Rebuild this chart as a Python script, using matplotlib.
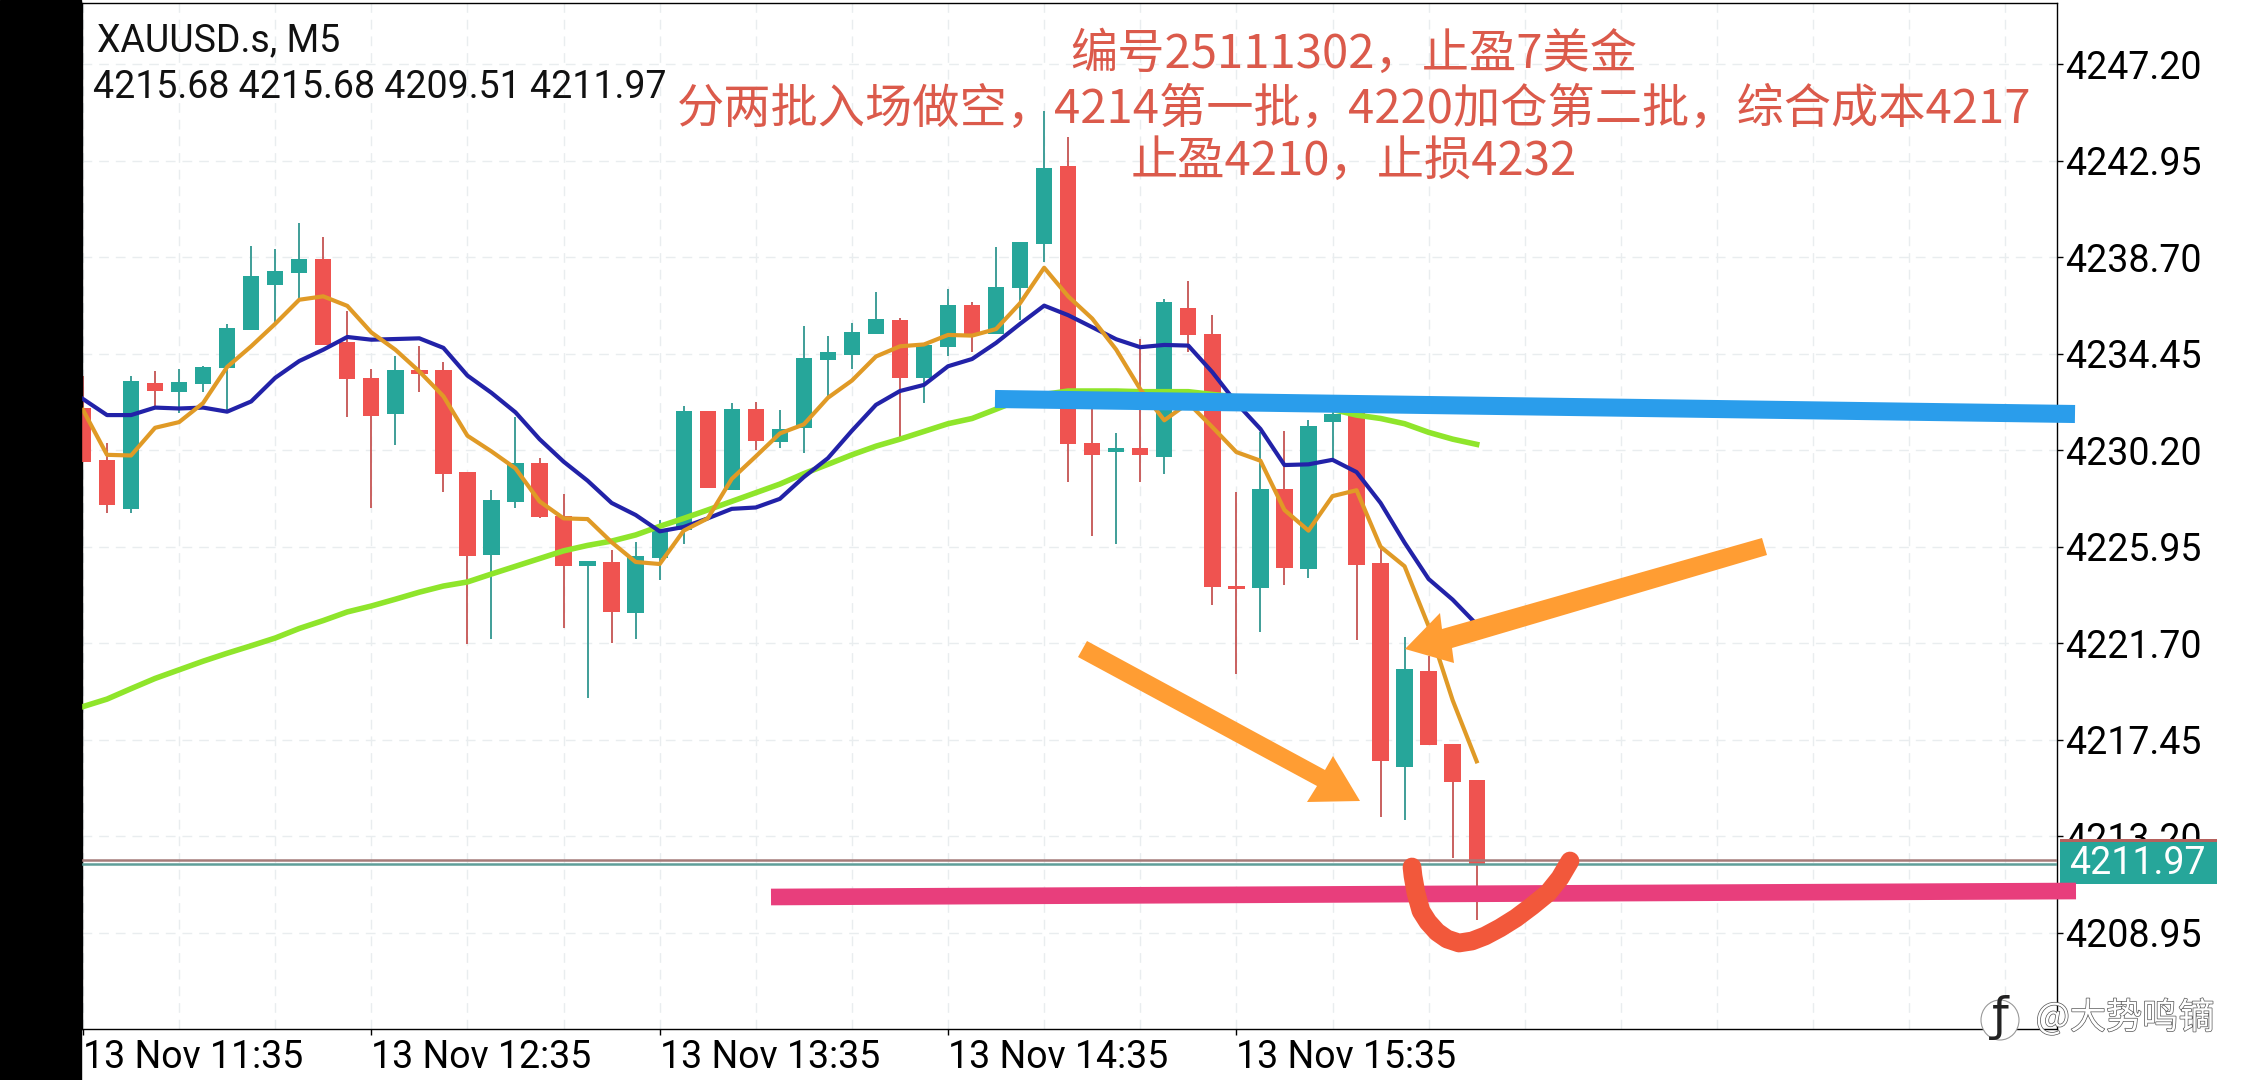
import matplotlib
matplotlib.use("Agg")
import numpy as np
import matplotlib.pyplot as plt
from matplotlib.patches import Polygon, Rectangle, Ellipse
import matplotlib.patheffects as pe

plt.rcParams["font.family"] = ["Roboto", "Noto Sans CJK SC", "DejaVu Sans"]

# candles, one per 5 minutes from 13 Nov 11:35
opens = [4232.07, 4229.75, 4227.62, 4233.16, 4232.76, 4233.11, 4233.83, 4235.50, 4237.47, 4238.00,
         4238.62, 4234.96, 4233.40, 4231.81, 4233.74, 4233.74, 4229.23, 4225.57, 4227.92, 4229.64,
         4227.32, 4225.10, 4225.30, 4223.02, 4225.46, 4226.69, 4231.95, 4228.45, 4232.02, 4230.58,
         4231.17, 4234.18, 4234.40, 4235.30, 4235.92, 4233.40, 4234.77, 4236.59, 4235.31, 4237.35,
         4239.29, 4242.72, 4230.52, 4230.14, 4230.32, 4229.91, 4236.47, 4235.34, 4224.22, 4224.12,
         4228.49, 4224.97, 4231.44, 4231.90, 4225.22, 4216.25, 4220.49, 4217.28, 4215.68]
closes = [4229.70, 4227.77, 4233.25, 4232.81, 4233.20, 4233.86, 4235.59, 4237.88, 4238.09, 4238.62,
          4234.83, 4233.34, 4231.72, 4233.74, 4233.55, 4229.17, 4225.54, 4228.00, 4229.64, 4227.27,
          4225.10, 4225.34, 4223.07, 4225.53, 4226.74, 4231.95, 4228.52, 4232.01, 4230.61, 4231.14,
          4234.25, 4234.51, 4235.39, 4235.98, 4233.37, 4234.83, 4236.59, 4235.31, 4237.38, 4239.38,
          4242.62, 4230.46, 4230.00, 4230.32, 4229.97, 4236.73, 4235.28, 4224.16, 4224.07, 4228.49,
          4225.03, 4231.29, 4231.79, 4225.13, 4216.50, 4220.57, 4217.23, 4215.60, 4211.97]
highs = [4233.48, 4230.50, 4233.49, 4233.67, 4233.80, 4233.90, 4235.77, 4239.18, 4239.06, 4240.20,
         4239.59, 4236.33, 4233.77, 4234.37, 4234.81, 4234.10, 4229.23, 4228.44, 4231.67, 4229.88,
         4228.26, 4225.34, 4225.80, 4226.18, 4227.12, 4232.13, 4231.95, 4232.28, 4232.31, 4231.98,
         4235.66, 4235.22, 4235.80, 4237.17, 4236.03, 4234.90, 4237.29, 4236.74, 4239.14, 4239.38,
         4245.15, 4243.99, 4232.05, 4230.96, 4235.09, 4236.88, 4237.64, 4236.15, 4228.36, 4230.99,
         4231.06, 4231.55, 4232.20, 4232.00, 4225.95, 4221.96, 4221.14, 4217.28, 4215.68]
lows = [4229.70, 4227.43, 4227.42, 4232.13, 4231.82, 4232.76, 4231.90, 4235.50, 4235.77, 4236.83,
        4234.83, 4231.67, 4227.65, 4230.43, 4232.76, 4228.36, 4221.67, 4221.88, 4227.67, 4227.20,
        4222.35, 4219.27, 4221.70, 4221.88, 4224.48, 4226.07, 4228.52, 4228.45, 4230.19, 4230.28,
        4230.06, 4232.58, 4233.80, 4235.30, 4230.69, 4232.28, 4234.37, 4234.52, 4235.31, 4235.92,
        4238.50, 4228.79, 4226.44, 4226.06, 4228.79, 4229.17, 4234.55, 4223.40, 4220.35, 4222.20,
        4224.27, 4224.57, 4229.70, 4221.83, 4214.05, 4213.92, 4217.23, 4212.23, 4209.51]

# moving averages
ma_blue = [4232.46, 4231.75, 4231.75, 4232.08, 4232.04, 4232.08, 4231.90, 4232.35, 4233.39, 4234.13,
           4234.63, 4235.19, 4235.07, 4235.10, 4235.13, 4234.71, 4233.49, 4232.73, 4231.87, 4230.69,
           4229.70, 4228.86, 4227.88, 4227.35, 4226.63, 4226.82, 4227.20, 4227.62, 4227.68, 4228.06,
           4229.02, 4229.85, 4231.06, 4232.20, 4232.81, 4233.08, 4233.90, 4234.22, 4234.93, 4235.77,
           4236.57, 4236.15, 4235.62, 4235.09, 4234.74, 4234.84, 4234.81, 4233.64, 4232.28, 4231.14,
           4229.55, 4229.58, 4229.78, 4229.24, 4227.88, 4226.13, 4224.53, 4223.62, 4222.53]
ma_orange = [4231.98, 4230.00, 4229.97, 4231.19, 4231.44, 4232.28, 4233.87, 4234.78, 4235.77, 4236.83,
             4236.98, 4236.56, 4235.39, 4234.63, 4233.67, 4232.58, 4230.84, 4230.15, 4229.40, 4227.95,
             4227.20, 4227.17, 4226.15, 4225.28, 4225.19, 4226.66, 4227.20, 4228.94, 4229.93, 4230.94,
             4231.34, 4232.51, 4233.27, 4234.33, 4234.78, 4234.86, 4235.28, 4235.25, 4235.54, 4236.68,
             4238.24, 4236.98, 4236.00, 4234.63, 4232.89, 4231.52, 4232.28, 4231.22, 4230.12, 4229.74,
             4227.57, 4226.66, 4228.18, 4228.44, 4225.95, 4225.09, 4222.45, 4219.19, 4216.50]
ma_lime = [4218.91, 4219.24, 4219.70, 4220.15, 4220.53, 4220.91, 4221.26, 4221.59, 4221.93, 4222.35,
           4222.70, 4223.08, 4223.34, 4223.64, 4223.95, 4224.22, 4224.40, 4224.75, 4225.09, 4225.43,
           4225.77, 4226.01, 4226.20, 4226.47, 4226.85, 4227.20, 4227.57, 4227.95, 4228.33, 4228.71,
           4229.17, 4229.58, 4230.00, 4230.38, 4230.69, 4231.03, 4231.37, 4231.60, 4232.01, 4232.43,
           4232.66, 4232.81, 4232.81, 4232.81, 4232.78, 4232.78, 4232.78, 4232.66, 4232.55, 4232.45,
           4232.30, 4232.15, 4232.00, 4231.75, 4231.60, 4231.37, 4230.99, 4230.69, 4230.46]

price_ticks = [4247.20, 4242.95, 4238.70, 4234.45, 4230.20, 4225.95, 4221.70, 4217.45, 4213.20, 4208.95]
time_ticks = [0, 12, 24, 36, 48]
time_labels = ["13 Nov 11:35", "13 Nov 12:35", "13 Nov 13:35", "13 Nov 14:35", "13 Nov 15:35"]
grid_bars = list(range(4, 82, 4))
last_bid = 4211.97
last_ask = 4212.14

note_lines = ["编号25111302，止盈7美金",
              "分两批入场做空，4214第一批，4220加仓第二批，综合成本4217",
              "止盈4210，止损4232"]
note_y = [55, 110, 162]

# hand drawn marks, in screen pixels
blue_stroke = ([995, 2075], [399, 414])
pink_stroke = ([771, 2076], [897, 891])
red_stroke_x = [1412, 1413, 1416, 1421, 1428, 1437, 1447, 1459, 1472, 1485, 1500, 1516, 1532, 1548, 1560, 1570]
red_stroke_y = [867, 876, 893, 911, 922, 932, 939, 943, 941, 936, 928, 918, 906, 893, 878, 861]
arrow_upper = [(1405, 649), (1440, 613), (1442, 629), (1762, 538), (1767, 555), (1452, 648), (1454, 663)]
arrow_lower = [(1087, 641), (1325, 770), (1333, 756), (1360, 801), (1307, 802), (1317, 786), (1078, 657)]

RED = "#EF5350"
TEAL = "#26A69A"
FONT = 27

fig = plt.figure(figsize=(22.44, 10.8), dpi=100, facecolor="white")
ax = fig.add_axes([82 / 2244, 1 - 1029 / 1080, (2057 - 82) / 2244, (1029 - 3) / 1080])

bars = np.arange(len(opens))
o = np.array(opens)
c = np.array(closes)
colors = [TEAL if b >= a else RED for a, b in zip(o, c)]
wick_colors = ["#3F9E98" if b >= a else "#C9605F" for a, b in zip(o, c)]

ax.vlines(bars, lows, highs, colors=wick_colors, linewidth=1.4, zorder=2)
ax.bar(bars, np.abs(c - o), bottom=np.minimum(o, c), width=0.68, color=colors, linewidth=0, zorder=3)

ax.hlines(last_ask, -1, 90, color="#A57C7A", linewidth=1.8, zorder=3)
ax.hlines(last_bid, -1, 90, color="#5F9E99", linewidth=1.8, zorder=3)

ax.plot(bars, ma_lime, color="#8FE52B", linewidth=4.0, zorder=4)
ax.plot(bars, ma_blue, color="#2222A8", linewidth=3.0, zorder=5)
ax.plot(bars, ma_orange, color="#E09A26", linewidth=3.0, zorder=6)

ax.set_xlim(-0.04, 82.15)
ax.set_ylim(4204.71, 4249.90)
ax.yaxis.tick_right()
ax.set_yticks(price_ticks)
ax.set_yticklabels([f"{p:.2f}" for p in price_ticks], fontsize=FONT)
ax.set_xticks(time_ticks)
ax.set_xticklabels(time_labels, fontsize=FONT, ha="left")
ax.set_xticks(grid_bars, minor=True)
ax.tick_params(axis="y", length=4, width=1, pad=2)
ax.tick_params(axis="x", which="major", length=4, width=1, pad=3)
ax.tick_params(axis="x", which="minor", length=0)
ax.grid(True, which="both", color="#E9EDEF", linewidth=1, linestyle=(0, (7, 5)), zorder=0)
ax.set_axisbelow(True)
for s in ax.spines.values():
    s.set_linewidth(1)
    s.set_color("black")

# overlay in screen pixels for the tag, notes and the hand drawn marks
ov = fig.add_axes([0, 0, 1, 1], facecolor="none")
ov.set_xlim(0, 2244)
ov.set_ylim(1080, 0)
ov.axis("off")

ov.add_patch(Rectangle((0, 0), 81, 1080, color="black", zorder=1))
ov.add_patch(Rectangle((2060, 839), 157, 4, color="#B5615D", linewidth=0, zorder=1))
ov.add_patch(Rectangle((2060, 842), 157, 42, color=TEAL, linewidth=0, zorder=1))
ov.text(2137, 863, f"{last_bid:.2f}", color="white", fontsize=FONT, ha="center", va="center", zorder=2)

ov.text(97, 41, "XAUUSD.s, M5", fontsize=FONT, color="#111111", va="center")
ov.text(93, 88, "4215.68 4215.68 4209.51 4211.97", fontsize=FONT, color="#111111", va="center")

for line, y in zip(note_lines, note_y):
    ov.text(1354, y, line, fontsize=34, color="#DB5A4B", ha="center", va="center",
            family=["Noto Sans CJK SC", "DejaVu Sans"], zorder=5)

ov.plot(*blue_stroke, color="#2A9DEB", linewidth=13, solid_capstyle="butt", zorder=3)
ov.plot(*pink_stroke, color="#E83E7C", linewidth=12, solid_capstyle="butt", zorder=3)
ov.add_patch(Polygon(arrow_upper, closed=True, color="#FF9D33", linewidth=0, zorder=3))
ov.add_patch(Polygon(arrow_lower, closed=True, color="#FF9D33", linewidth=0, zorder=3))
ov.plot(red_stroke_x, red_stroke_y, color="#F2583B", linewidth=13.5, solid_capstyle="round",
        solid_joinstyle="round", zorder=4)

# watermark
ov.add_patch(Ellipse((2000, 1020), 38, 40, facecolor="white", edgecolor="#999999", linewidth=0.8, zorder=6))
ov.text(2000, 1018, "ƒ", fontsize=34, color="#222222", ha="center", va="center",
        family=["DejaVu Sans"], zorder=7)
ov.text(2125, 1018, "@大势鸣镝", fontsize=26, color="white", ha="center", va="center",
        family=["Noto Sans CJK SC", "DejaVu Sans"], zorder=7,
        path_effects=[pe.withStroke(linewidth=1.0, foreground="#555555")])

fig.savefig("out.png", dpi=100, facecolor="white")
